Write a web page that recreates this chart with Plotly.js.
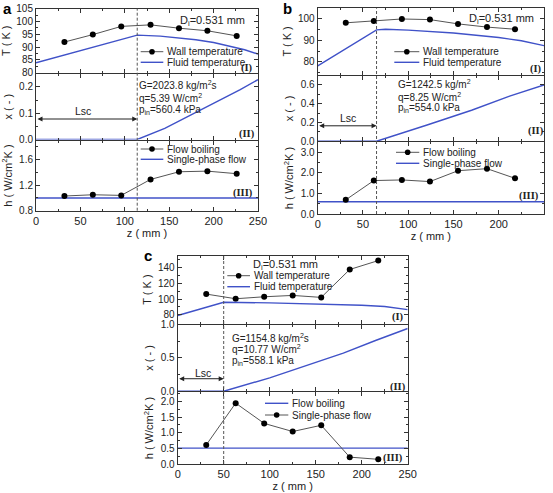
<!DOCTYPE html>
<html><head><meta charset="utf-8">
<script src="https://cdn.plot.ly/plotly-3.0.1.min.js"></script>
<style>html,body{margin:0;padding:0;background:#fff}#c{width:553px;height:493px}</style>
</head><body><div id="c"></div>
<script>
// ---------- data ----------
const xTicks = [0, 50, 100, 150, 200, 250];

// panel a
const zWallA = [32, 64, 96, 129, 161, 193, 226];
const tWallA = [92.0, 94.9, 98.1, 98.7, 97.4, 96.4, 94.4];
const zFluidA = [0, 114, 140, 160, 180, 200, 220, 235, 250];
const tFluidA = [83.9, 94.7, 94.3, 93.7, 92.9, 91.8, 90.3, 89.0, 87.3];
const lscA = 114;
const zQualA = [0, 114, 145, 175, 205, 230, 250];
const qualA = [0, 0, 0.042, 0.094, 0.146, 0.19, 0.228];
const zHA = [32, 64, 96, 129, 161, 193, 226];
const hA = [1.03, 1.05, 1.04, 1.29, 1.41, 1.42, 1.38];
const zSingleA = [0, 250];
const hSingleA = [1.0, 1.0];

// panel b
const zWallB = [31, 62, 93, 124, 155, 187, 218];
const tWallB = [98.2, 99.1, 100.0, 99.7, 97.7, 96.2, 95.2];
const zFluidB = [0, 65, 75, 100, 150, 200, 225, 250];
const tFluidB = [78.0, 94.9, 95.2, 94.8, 93.4, 91.3, 89.8, 87.5];
const lscB = 65;
const zQualB = [0, 65, 120, 170, 212, 250];
const qualB = [0, 0, 0.17, 0.33, 0.48, 0.6];
const zHB = [31, 62, 93, 124, 155, 187, 218];
const hB = [0.69, 1.63, 1.66, 1.58, 2.11, 2.21, 1.74];
const zSingleB = [0, 250];
const hSingleB = [0.6, 0.6];

// panel c
const zWallC = [31, 63, 94, 125, 156, 187, 218];
const tWallC = [106.3, 100.4, 102.9, 104.6, 102.1, 137.5, 148.8];
const zFluidC = [0, 50, 100, 150, 200, 225, 250];
const tFluidC = [79.2, 95.9, 95.2, 94.0, 92.2, 90.6, 86.6];
const lscC = 50;
const zQualC = [0, 50, 100, 140, 180, 215, 250];
const qualC = [0, 0, 0.2, 0.38, 0.57, 0.76, 0.94];
const zHC = [31, 63, 94, 125, 156, 187, 218];
const hC = [0.61, 1.95, 1.30, 1.04, 1.24, 0.22, 0.15];
const zBoilC = [0, 250];
const hBoilC = [0.51, 0.51];

// ---------- style ----------
const W = 553, H = 493;
const px = v => v / W;
const py = v => 1 - v / H;
const BLUE = '#4052c8';
const INK = '#222';
const FONT = 'Liberation Sans, Arial, sans-serif';
const SERIF = 'Liberation Serif, Times New Roman, serif';

function wall(x, y, xa, ya) {
  return {x, y, xaxis: xa, yaxis: ya, mode: 'lines+markers', type: 'scatter',
    line: {color: '#555', width: 1}, marker: {color: '#000', size: 6}, showlegend: false, hoverinfo: 'skip'};
}
function blue(x, y, xa, ya) {
  return {x, y, xaxis: xa, yaxis: ya, mode: 'lines', type: 'scatter',
    line: {color: BLUE, width: 1.4}, showlegend: false, hoverinfo: 'skip'};
}

const traces = [
  wall(zWallA, tWallA, 'x', 'y'), blue(zFluidA, tFluidA, 'x', 'y'),
  blue(zQualA, qualA, 'x2', 'y2'),
  blue(zSingleA, hSingleA, 'x3', 'y3'), wall(zHA, hA, 'x3', 'y3'),
  wall(zWallB, tWallB, 'x4', 'y4'), blue(zFluidB, tFluidB, 'x4', 'y4'),
  blue(zQualB, qualB, 'x5', 'y5'),
  blue(zSingleB, hSingleB, 'x6', 'y6'), wall(zHB, hB, 'x6', 'y6'),
  wall(zWallC, tWallC, 'x7', 'y7'), blue(zFluidC, tFluidC, 'x7', 'y7'),
  blue(zQualC, qualC, 'x8', 'y8'),
  blue(zBoilC, hBoilC, 'x9', 'y9'), wall(zHC, hC, 'x9', 'y9')
];

const axBase = {
  showline: true, mirror: 'ticks', linecolor: '#333', linewidth: 1,
  ticks: 'inside', ticklen: 4, tickcolor: '#333', showgrid: false, zeroline: false,
  tickfont: {family: FONT, size: 10, color: INK}, fixedrange: true
};

function xaxis(dom, anchor, bottom) {
  const ax = Object.assign({}, axBase, {
    domain: dom, anchor: anchor, range: [0, 250], tickvals: xTicks,
    showticklabels: bottom, tickfont: {family: FONT, size: 11, color: INK},
    minor: {ticks: 'inside', ticklen: 2, tickcolor: '#333', dtick: 25}
  });
  if (bottom) ax.title = {text: 'z ( mm )', font: {family: FONT, size: 11, color: INK}, standoff: 2};
  return ax;
}
function yaxis(dom, anchor, range, dtick, minorD, fmt, title) {
  return Object.assign({}, axBase, {
    domain: dom, anchor: anchor, range: range, dtick: dtick, tick0: 0, tickformat: fmt,
    minor: {ticks: 'inside', ticklen: 2, tickcolor: '#333', dtick: minorD, tick0: 0},
    title: {text: title, font: {family: FONT, size: 11, color: INK}, standoff: 4}
  });
}

// domains (pixel positions converted to paper); a 1px gap lets shared borders coincide
const dxA = [px(36), px(258)], dxB = [px(317.7), px(544)], dxC = [px(177.7), px(407.7)];
const yA = [8.7, 73.3, 140, 210.7], yB = [8.3, 75, 141.7, 214], yC = [255.7, 324, 391.7, 464];
const dom = (a, i) => [py(a[i + 1] - (i < 2 ? 0.5 : 0)), py(a[i] + (i > 0 ? 0.5 : 0))];

const TT = 'T ( K )', XT = 'x ( - )', HT = 'h ( W/cm<sup>2</sup>K )';

const layout = {
  width: W, height: H, margin: {l: 0, r: 0, t: 0, b: 0},
  paper_bgcolor: '#fff', plot_bgcolor: '#fff', showlegend: false,
  font: {family: FONT, size: 10, color: INK},
  xaxis: xaxis(dxA, 'y', false), yaxis: yaxis(dom(yA, 0), 'x', [80, 105], 5, 2.5, 'd', TT),
  xaxis2: xaxis(dxA, 'y2', false), yaxis2: yaxis(dom(yA, 1), 'x2', [0, 0.25], 0.1, 0.05, '.1f', XT),
  xaxis3: xaxis(dxA, 'y3', true), yaxis3: yaxis(dom(yA, 2), 'x3', [0.8, 1.9], 0.4, 0.2, '.1f', HT),
  xaxis4: xaxis(dxB, 'y4', false), yaxis4: yaxis(dom(yB, 0), 'x4', [74, 105], 10, 5, 'd', TT),
  xaxis5: xaxis(dxB, 'y5', false), yaxis5: yaxis(dom(yB, 1), 'x5', [0, 0.7], 0.2, 0.1, '.1f', XT),
  xaxis6: xaxis(dxB, 'y6', true), yaxis6: yaxis(dom(yB, 2), 'x6', [0, 3.5], 1, 0.5, '.1f', HT),
  xaxis7: xaxis(dxC, 'y7', false), yaxis7: yaxis(dom(yC, 0), 'x7', [69, 155], 20, 10, 'd', TT),
  xaxis8: xaxis(dxC, 'y8', false), yaxis8: yaxis(dom(yC, 1), 'x8', [0, 1.0], 0.5, 0.25, '.1f', XT),
  xaxis9: xaxis(dxC, 'y9', true), yaxis9: yaxis(dom(yC, 2), 'x9', [0, 2.3], 0.5, 0.25, '.1f', HT),
  shapes: [], annotations: []
};
layout.yaxis.tick0 = 80; layout.yaxis.minor.tick0 = 80;
layout.yaxis3.tick0 = 0.8; layout.yaxis3.minor.tick0 = 0.8;
layout.yaxis7.tick0 = 80; layout.yaxis7.minor.tick0 = 80;

const S = layout.shapes, A = layout.annotations;

// dashed Lsc lines
[[lscA, 'x', yA], [lscB, 'x4', yB], [lscC, 'x7', yC]].forEach(([l, xr, ys]) => {
  S.push({type: 'line', xref: xr, yref: 'paper', x0: l, x1: l, y0: py(ys[3]), y1: py(ys[0]),
    line: {color: '#555', width: 1, dash: '3px,2px'}});
});

// Lsc arrows + labels
function lscArrow(l, xr, yr, yv, yt, zt) {
  A.push({xref: xr, yref: yr, axref: xr, ayref: yr, x: l, y: yv, ax: 0, ay: yv, text: '',
    showarrow: true, arrowside: 'end+start', arrowhead: 2, arrowsize: 1, arrowwidth: 1,
    arrowcolor: INK, standoff: 0, startstandoff: 0});
  A.push({xref: xr, yref: yr, x: zt, y: yt, text: 'Lsc', showarrow: false,
    font: {family: FONT, size: 10.5, color: INK}});
}
lscArrow(lscA, 'x2', 'y2', 0.078, 0.11, 53);
lscArrow(lscB, 'x5', 'y5', 0.164, 0.245, 34);
lscArrow(lscC, 'x8', 'y8', 0.187, 0.275, 28);

// text helpers (pixel-positioned)
function txt(x, y, t, opt) {
  A.push(Object.assign({xref: 'paper', yref: 'paper', x: px(x), y: py(y), text: t, showarrow: false,
    xanchor: 'left', yanchor: 'middle', font: {family: FONT, size: 10, color: INK}}, opt || {}));
}
function roman(x, y, t) {
  txt(x, y, t, {xanchor: 'center', font: {family: SERIF, size: 10.5, color: INK, weight: 'bold'}});
}
function legRow(x0, x1, y, color, dot, label) {
  S.push({type: 'line', xref: 'paper', yref: 'paper', x0: px(x0), x1: px(x1), y0: py(y), y1: py(y),
    line: {color: color, width: dot ? 1 : 1.4}});
  if (dot) {
    const c = (x0 + x1) / 2;
    S.push({type: 'circle', xref: 'paper', yref: 'paper', x0: px(c - 2.8), x1: px(c + 2.8),
      y0: py(y + 2.8), y1: py(y - 2.8), fillcolor: '#000', line: {color: '#000', width: 0}});
  }
  txt(x1 + 1.5, y, label, {font: {family: FONT, size: 10, color: INK}});
}

// panel letters
txt(1, 8, 'a', {font: {family: FONT, size: 15, color: '#000', weight: 'bold'}});
txt(281, 8, 'b', {font: {family: FONT, size: 15, color: '#000', weight: 'bold'}});
txt(142, 255, 'c', {font: {family: FONT, size: 15, color: '#000', weight: 'bold'}});

// panel a
txt(178, 20.7, 'D<sub>i</sub>=0.531 mm', {font: {family: FONT, size: 11, color: INK}});
legRow(140.7, 163.3, 51.7, '#555', true, 'Wall temperature');
legRow(140.7, 163.3, 62.3, BLUE, false, 'Fluid temperature');
roman(246.5, 68.3, '(I)');
txt(137, 85, 'G=2023.8 kg/m<sup>2</sup>s');
txt(137, 98.5, 'q=5.39 W/cm<sup>2</sup>');
txt(137, 109.5, 'p<sub>in</sub>=560.4 kPa');
roman(247, 134.3, '(II)');
legRow(140.7, 163.3, 149, '#555', true, 'Flow boiling');
legRow(140.7, 163.3, 159.3, BLUE, false, 'Single-phase flow');
roman(243, 193.3, '(III)');

// panel b
txt(467, 19, 'D<sub>i</sub>=0.531 mm', {font: {family: FONT, size: 11, color: INK}});
legRow(394.3, 419.3, 51.7, '#555', true, 'Wall temperature');
legRow(394.3, 419.3, 62.3, BLUE, false, 'Fluid temperature');
roman(536, 69, '(I)');
txt(396, 84.3, 'G=1242.5 kg/m<sup>2</sup>');
txt(396, 96.7, 'q=8.25 W/cm<sup>2</sup>');
txt(396, 108.5, 'p<sub>in</sub>=554.0 kPa');
roman(536, 131, '(II)');
legRow(396, 419.3, 152.3, '#555', true, 'Flow boiling');
legRow(396, 419.3, 163.3, BLUE, false, 'Single-phase flow');
roman(529, 196, '(III)');

// panel c
txt(251, 264.5, 'D<sub>i</sub>=0.531 mm', {font: {family: FONT, size: 11, color: INK}});
legRow(227.3, 250, 275.7, '#555', true, 'Wall temperature');
legRow(227.3, 250, 286.7, BLUE, false, 'Fluid temperature');
roman(398, 316.7, '(I)');
txt(230, 337.7, 'G=1154.8 kg/m<sup>2</sup>s');
txt(230, 349, 'q=10.77 W/cm<sup>2</sup>');
txt(230, 360.5, 'p<sub>in</sub>=558.1 kPa');
roman(398, 387, '(II)');
legRow(265, 288.3, 403.3, BLUE, false, 'Flow boiling');
legRow(265, 288.3, 415, '#555', true, 'Single-phase flow');
roman(393.3, 458.3, '(III)');

Plotly.newPlot('c', traces, layout, {staticPlot: true, displayModeBar: false});
</script></body></html>
